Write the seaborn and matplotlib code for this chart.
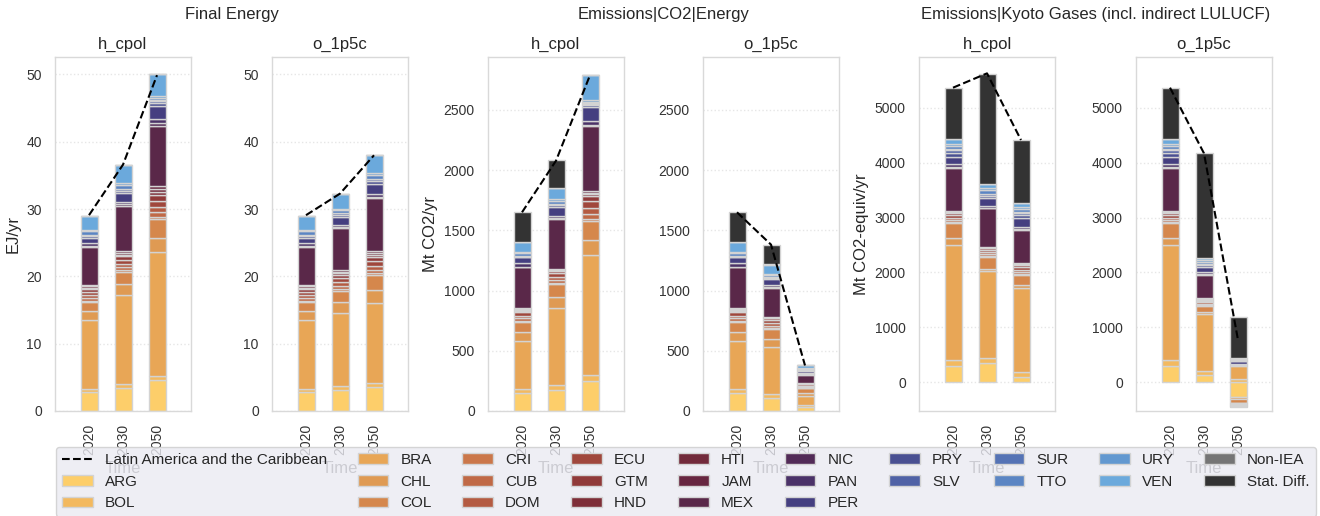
import numpy as np
import matplotlib
matplotlib.use("Agg")
import matplotlib.pyplot as plt
import seaborn as sns

# ---------------- data ----------------
countries = ["ARG", "BOL", "BRA", "CHL", "COL", "CRI", "CUB", "DOM", "ECU", "GTM",
             "HND", "HTI", "JAM", "MEX", "NIC", "PAN", "PER", "PRY", "SLV", "SUR",
             "TTO", "URY", "VEN", "Non-IEA", "Stat. Diff."]
years = ["2020", "2030", "2050"]
region_name = "Latin America and the Caribbean"

# Final Energy (EJ/yr), country order as above
fe_2020 = [2.8, 0.5, 10.2, 1.4, 1.3, 0.2, 0.4, 0.4, 0.5, 0.4, 0.2, 0.2, 0.2, 5.7,
           0.15, 0.35, 0.75, 0.3, 0.2, 0.05, 0.5, 0.25, 2.0, 0.05, 0.0]
fe_h_2030 = [3.4, 0.6, 13.3, 1.6, 1.8, 0.25, 0.45, 0.5, 0.6, 0.5, 0.25, 0.2, 0.25, 6.8,
             0.2, 0.4, 1.3, 0.35, 0.25, 0.05, 0.55, 0.3, 2.6, 0.05, 0.0]
fe_h_2050 = [4.6, 0.6, 18.4, 2.1, 2.8, 0.4, 0.6, 0.8, 0.9, 0.9, 0.45, 0.4, 0.45, 9.0,
             0.35, 0.65, 1.9, 0.45, 0.35, 0.05, 0.4, 0.25, 3.2, 0.05, 0.0]
fe_o_2030 = [3.1, 0.6, 10.8, 1.7, 1.7, 0.25, 0.45, 0.5, 0.6, 0.5, 0.25, 0.2, 0.25, 6.3,
             0.15, 0.35, 1.1, 0.3, 0.25, 0.05, 0.4, 0.2, 2.2, 0.05, 0.0]
fe_o_2050 = [3.6, 0.6, 11.8, 2.0, 2.2, 0.3, 0.5, 0.6, 0.7, 0.6, 0.3, 0.3, 0.3, 7.8,
             0.25, 0.45, 1.5, 0.35, 0.3, 0.05, 0.5, 0.4, 2.6, 0.05, 0.0]
fe_region_h = [29.1, 36.6, 49.9]
fe_region_o = [29.1, 32.3, 38.0]

# Emissions|CO2|Energy (Mt CO2/yr)
co2_2020 = [149, 36, 392, 77, 88, 8, 20, 22, 30, 12, 8, 3, 7, 340,
            5, 28, 50, 7, 6, 2, 22, 10, 77, 4, 246]
co2_h_2030 = [177, 36, 640, 91, 110, 9, 22, 26, 34, 15, 9, 3, 6, 414,
              6, 22, 77, 10, 8, 3, 28, 12, 91, 4, 228]
co2_h_2050 = [249, 52, 994, 127, 157, 18, 40, 50, 60, 35, 18, 8, 14, 544,
              10, 31, 119, 14, 12, 3, 10, 13, 207, 2, 0]
co2_o_2030 = [110, 33, 392, 64, 80, 7, 20, 22, 28, 12, 7, 3, 6, 238,
              5, 20, 47, 7, 6, 2, 20, 9, 77, 3, 163]
co2_o_2050 = [33, 19, 75, 22, 42, 3, 8, 8, 10, 5, 3, 1, 3, 69,
              3, 8, 22, 5, 4, 1, 7, 5, 22, 1, 0]
co2_region_h = [1649, 2077, 2787]
co2_region_o = [1649, 1381, 378]

# Emissions|Kyoto Gases (incl. indirect LULUCF) (Mt CO2-equiv/yr)
kyo_2020 = [297, 109, 2100, 130, 273, 12, 40, 38, 55, 30, 20, 7, 10, 790,
            15, 52, 134, 70, 51, 8, 65, 40, 81, 0, 929]
kyo_h_2030 = [358, 79, 1590, 30, 231, 10, 35, 35, 45, 25, 17, 6, 9, 698,
              14, 35, 134, 45, 34, 8, 65, 40, 69, 0, 1997]
kyo_h_2050 = [103, 91, 1518, 61, 182, 12, 40, 38, 55, 30, 20, 7, 10, 607,
              18, 43, 152, 58, 45, 10, 51, 40, 81, 0, 1141]
kyo_o_2030 = [134, 79, 1032, 42, 109, 8, 25, 25, 35, 18, 12, 5, 6, 425,
              12, 37, 91, 35, 26, 7, 35, 25, 36, 0, 1912]
kyo_o_2050 = [-273, 55, 243, -40, -60, -5, 10, 8, -20, -15, -10, 2, 2, 20,
              -5, -10, 45, 10, 5, -5, 20, 8, 10, 0, 760]
kyo_region_h = [5366, 5627, 4413]
kyo_region_o = [5366, 4170, 771]

colors = ["#FDCE6A", "#F3B95F", "#E8A656", "#DF9A53", "#D5874C", "#CB774A", "#C06946",
          "#B45B42", "#A0473C", "#903A39", "#7E2E38", "#722A3B", "#672640", "#5A2849",
          "#522B57", "#4B3268", "#453F80", "#4A5092", "#5062A6", "#5573B5", "#5B85C3",
          "#6298D0", "#6BA9DC", "#757575", "#333333"]

# ---------------- style ----------------
sns.set_theme(style="whitegrid")
plt.rcParams["font.family"] = ["Liberation Sans", "DejaVu Sans"]

W, H = 1320, 516
fig = plt.figure(figsize=(W / 100, H / 100), dpi=100)

lefts = [55, 272, 488, 703, 919, 1136]
ax_w, top_px, bot_px = 136, 57, 411

panels = [
    (fe_2020, fe_h_2030, fe_h_2050, fe_region_h, "h_cpol", "EJ/yr", (0, 52.6), [0, 10, 20, 30, 40, 50]),
    (fe_2020, fe_o_2030, fe_o_2050, fe_region_o, "o_1p5c", None, (0, 52.6), [0, 10, 20, 30, 40, 50]),
    (co2_2020, co2_h_2030, co2_h_2050, co2_region_h, "h_cpol", "Mt CO2/yr", (0, 2938), [0, 500, 1000, 1500, 2000, 2500]),
    (co2_2020, co2_o_2030, co2_o_2050, co2_region_o, "o_1p5c", None, (0, 2938), [0, 500, 1000, 1500, 2000, 2500]),
    (kyo_2020, kyo_h_2030, kyo_h_2050, kyo_region_h, "h_cpol", "Mt CO2-equiv/yr", (-523, 5925), [0, 1000, 2000, 3000, 4000, 5000]),
    (kyo_2020, kyo_o_2030, kyo_o_2050, kyo_region_o, "o_1p5c", None, (-523, 5925), [0, 1000, 2000, 3000, 4000, 5000]),
]

EDGE = "#d3d3d3"
x = np.arange(len(years))
handles = None

for left, (v20, v30, v50, region, title, ylab, ylim, yticks) in zip(lefts, panels):
    ax = fig.add_axes([left / W, 1 - bot_px / H, ax_w / W, (bot_px - top_px) / H])
    data = np.array([v20, v30, v50], dtype=float).T
    pos_b = np.zeros(3)
    neg_b = np.zeros(3)
    bar_handles = []
    for i, c in enumerate(countries):
        v = data[i]
        bottom = np.where(v >= 0, pos_b, neg_b)
        b = ax.bar(x, v, 0.5, bottom=bottom, color=colors[i], edgecolor=EDGE,
                   linewidth=1.0, label=c, zorder=2)
        bar_handles.append(b)
        pos_b += np.clip(v, 0, None)
        neg_b += np.clip(v, None, 0)
    sns.lineplot(x=x, y=region, ax=ax, color="black", linestyle="--", linewidth=1.5,
                 label=region_name, zorder=3)
    line_handle = ax.get_lines()[-1]
    if ax.get_legend() is not None:
        ax.get_legend().remove()
    if handles is None:
        handles = [line_handle] + bar_handles

    ax.set_xlim(-1.0, 3.0)
    ax.set_ylim(*ylim)
    ax.set_yticks(yticks)
    ax.set_xticks(x)
    ax.set_xticklabels(years, rotation=90)
    ax.tick_params(axis="both", labelsize=10, colors="#333333")
    ax.grid(axis="x", visible=False)
    ax.grid(axis="y", linestyle=":", color="#e6e6e6", linewidth=1.0)
    for s in ax.spines.values():
        s.set_color("#d9d9d9")
        s.set_linewidth(1.0)
    ax.set_title(title, fontsize=12, pad=6, color="#262626")
    ax.set_xlabel("Time", fontsize=12, color="#555555")
    if ylab:
        ax.set_ylabel(ylab, fontsize=12, color="#262626")
    else:
        ax.set_ylabel("")

sup_titles = ["Final Energy", "Emissions|CO2|Energy", "Emissions|Kyoto Gases (incl. indirect LULUCF)"]
for k, t in enumerate(sup_titles):
    cx = (lefts[2 * k] + lefts[2 * k + 1] + ax_w) / 2
    fig.text(cx / W, 1 - 15 / H, t, ha="center", va="center", fontsize=12, color="#262626")

labels = [region_name] + countries
leg = fig.legend(handles, labels, ncol=10, loc="upper left",
                 bbox_to_anchor=(56 / W, 1 - 447 / H), fontsize=11, frameon=True,
                 facecolor="#EAEAF2", framealpha=0.8, edgecolor="#cccccc",
                 borderaxespad=0)
for t in leg.get_texts():
    t.set_color("#262626")

fig.savefig("out.png", dpi=100)
